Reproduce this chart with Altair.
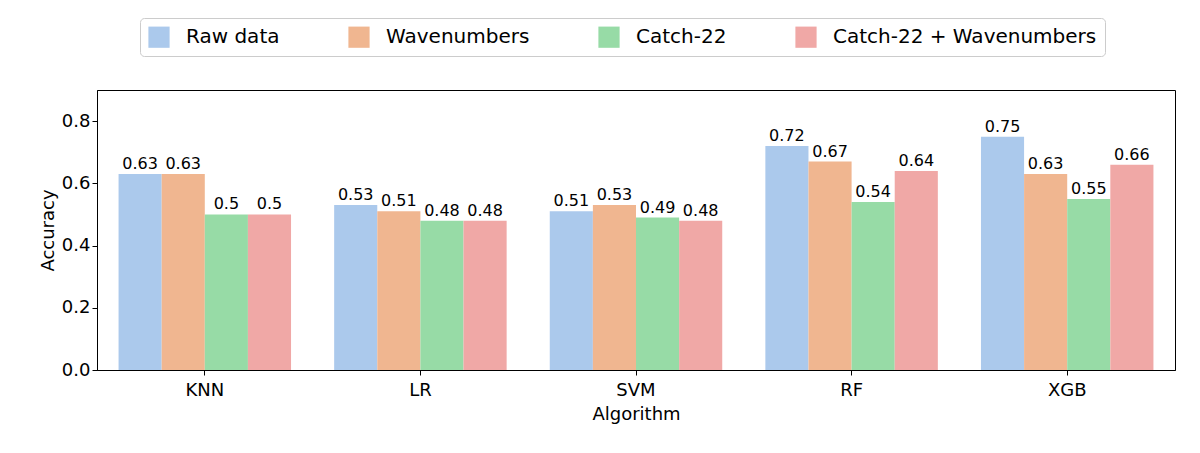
import pandas as pd
import altair as alt

algorithms = ["KNN", "LR", "SVM", "RF", "XGB"]
feature_sets = ["Raw data", "Wavenumbers", "Catch-22", "Catch-22 + Wavenumbers"]
raw = [0.63, 0.53, 0.51, 0.72, 0.75]
wave = [0.63, 0.51, 0.53, 0.67, 0.63]
catch = [0.50, 0.48, 0.49, 0.54, 0.55]
both = [0.50, 0.48, 0.48, 0.64, 0.66]
colors = ["#abc9ec", "#f0b690", "#97dba6", "#f0a8a6"]

rows = []
for fs, vals in zip(feature_sets, [raw, wave, catch, both]):
    for a, v in zip(algorithms, vals):
        rows.append({"Algorithm": a, "Features": fs, "Accuracy": v, "label": f"{v:g}"})
df = pd.DataFrame(rows)

font = "DejaVu Sans"
x = alt.X("Algorithm:N", sort=algorithms,
          scale=alt.Scale(paddingInner=0.2, paddingOuter=0.1),
          axis=alt.Axis(labelAngle=0, labelFontSize=18, titleFontSize=18,
                        labelColor="black", titleColor="black", titleFontWeight="normal",
                        tickColor="black", domainColor="black", labelFont=font, titleFont=font,
                        labelPadding=6, titlePadding=6))
xo = alt.XOffset("Features:N", sort=feature_sets)

base = alt.Chart(df)
bars = base.mark_bar().encode(
    x=x, xOffset=xo,
    y=alt.Y("Accuracy:Q", scale=alt.Scale(domain=[0, 0.9]),
            axis=alt.Axis(values=[0, 0.2, 0.4, 0.6, 0.8], format=".1f", grid=False,
                          labelFontSize=18, titleFontSize=18, labelColor="black",
                          titleColor="black", titleFontWeight="normal", tickColor="black",
                          domainColor="black", labelFont=font, titleFont=font)),
    color=alt.Color("Features:N", sort=feature_sets,
                    scale=alt.Scale(domain=feature_sets, range=colors),
                    legend=alt.Legend(title=None, orient="none", direction="horizontal",
                                      legendX=43, legendY=-72, labelFontSize=20,
                                      labelFont=font, labelColor="black",
                                      symbolType="square", symbolSize=450,
                                      symbolStrokeWidth=0, columnPadding=68,
                                      labelOffset=16,
                                      strokeColor="#cccccc", padding=8,
                                      cornerRadius=4, labelLimit=400)),
)
text = base.mark_text(dy=-10, fontSize=16, font=font, color="black").encode(
    x=x, xOffset=xo, y="Accuracy:Q", text="label:N")

chart = (bars + text).properties(
    width=1078, height=280,
    autosize=alt.AutoSizeParams(type="none"),
    padding={"left": 89, "top": 82, "right": 10, "bottom": 80},
).configure_view(stroke="black", strokeWidth=1)

chart.save("out.html", embed_options={"renderer": "svg", "actions": False})
